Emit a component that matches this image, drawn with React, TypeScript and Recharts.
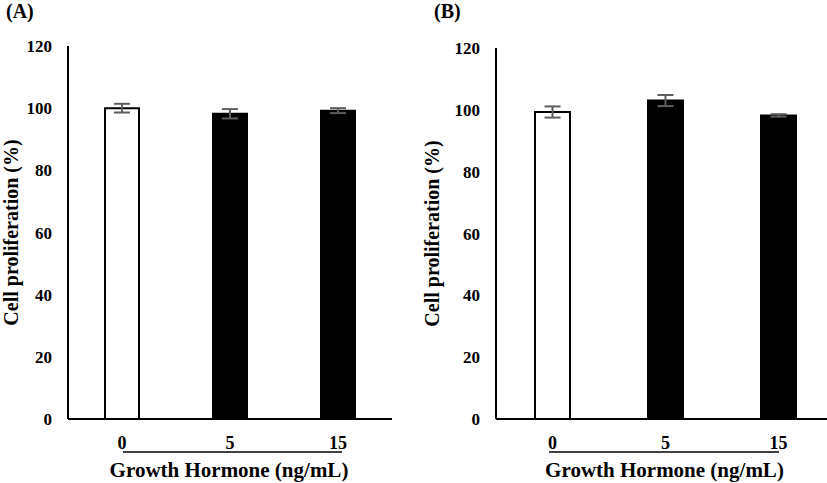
import { Bar, BarChart, Cell, ErrorBar, XAxis, YAxis } from "recharts"

const doses = ["0", "5", "15"]
const prolifA = [100, 98.2, 99.2]
const errA = [1.4, 1.5, 0.8]
const prolifB = [99.3, 103, 98.2]
const errB = [1.8, 1.8, 0.4]
const yTicks = [0, 20, 40, 60, 80, 100, 120]

const font = "Liberation Serif"

type PanelProps = {
  tag: string
  values: number[]
  errors: number[]
  left: number
  width: number
  axisWidth: number
  tagLeft: number
  top: number
  barSize: number
  yLabelDx: number
  lineStart: number
  lineEnd: number
}

function Panel(p: PanelProps) {
  const { tag, values, errors, left, width, axisWidth, tagLeft, top, barSize, yLabelDx, lineStart, lineEnd } = p
  const data = doses.map((d, i) => ({ dose: d, value: values[i], err: errors[i] }))

  const xTitle = (props: any) => {
    const { x, y, width: w } = props.viewBox
    return (
      <g>
        <line x1={x + lineStart} x2={x + lineEnd} y1={y + 33} y2={y + 33} stroke="#000" strokeWidth={1.5} />
        <text x={x + w / 2 - 1} y={y + 58} textAnchor="middle" fontFamily={font} fontWeight={700} fontSize={21} fill="#000">
          Growth Hormone (ng/mL)
        </text>
      </g>
    )
  }

  return (
    <div style={{ position: "absolute", left, top: 0, width, height: 483, fontFamily: font }}>
      <div style={{ position: "absolute", left: tagLeft, top: 0, fontWeight: 700, fontSize: 20, lineHeight: "22px" }}>
        {tag}
      </div>
      <BarChart width={width} height={483} data={data} margin={{ top, right: 0, bottom: 0, left: 0 }} barCategoryGap={0}>
        <XAxis
          dataKey="dose"
          height={64}
          tickLine={false}
          tickSize={0}
          tickMargin={17}
          axisLine={{ stroke: "#000", strokeWidth: 2 }}
          tick={{ fill: "#000", fontSize: 18, fontWeight: 700, fontFamily: font }}
          label={xTitle}
        />
        <YAxis
          width={axisWidth}
          domain={[0, 120]}
          ticks={yTicks}
          interval={0}
          tickLine={false}
          tickSize={0}
          tickMargin={16}
          axisLine={{ stroke: "#000", strokeWidth: 2 }}
          tick={{ fill: "#000", fontSize: 17, fontWeight: 700, fontFamily: font }}
          label={{
            value: "Cell proliferation (%)",
            angle: -90,
            position: "center",
            dx: yLabelDx,
            style: { fill: "#000", fontSize: 20, fontWeight: 700, fontFamily: font },
          }}
        />
        <Bar dataKey="value" barSize={barSize} isAnimationActive={false}>
          {data.map((_, i) => (
            <Cell key={i} fill={i === 0 ? "#fff" : "#000"} stroke="#000" strokeWidth={2} />
          ))}
          <ErrorBar dataKey="err" width={8} stroke="#5e5e5e" strokeWidth={2} isAnimationActive={false} />
        </Bar>
      </BarChart>
    </div>
  )
}

export default function App() {
  return (
    <div style={{ position: "absolute", left: 0, top: 0, width: 827, height: 483, overflow: "hidden", background: "#fff" }}>
      <Panel tag="(A)" values={prolifA} errors={errA} left={0} width={392} axisWidth={68} tagLeft={6} top={46}
        barSize={34} yLabelDx={-23} lineStart={55} lineEnd={274} />
      <Panel tag="(B)" values={prolifB} errors={errB} left={418} width={417} axisWidth={78} tagLeft={16} top={48}
        barSize={35} yLabelDx={-25} lineStart={53} lineEnd={283} />
    </div>
  )
}
